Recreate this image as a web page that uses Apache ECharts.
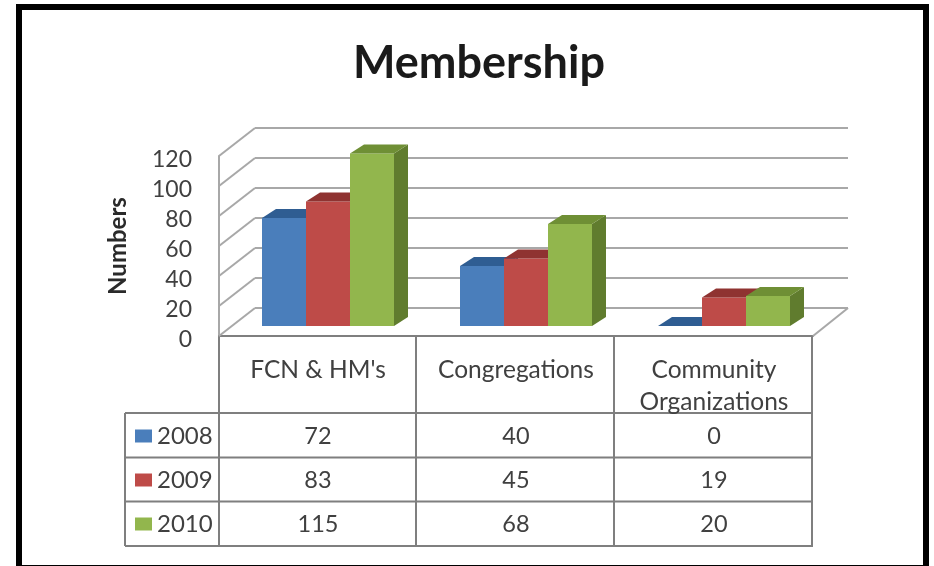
<!DOCTYPE html>
<html>
<head>
<meta charset="utf-8">
<style>html,body{margin:0;padding:0;background:#fff}#c{width:934px;height:566px;filter:blur(0.6px)}</style>
<script src="https://cdn.jsdelivr.net/npm/echarts@6/dist/echarts.min.js"></script>
</head>
<body>
<div id="c"></div>
<script>
var categories = ["FCN & HM's", "Congregations", "Community\nOrganizations"];
var years = ["2008", "2009", "2010"];
var values2008 = [72, 40, 0];
var values2009 = [83, 45, 19];
var values2010 = [115, 68, 20];
var yTicks = [0, 20, 40, 60, 80, 100, 120];

var FONT = 'Lato';
var TEXT = '#404040';
var LINE = '#a8a8a8';
var TABLE = '#7f7f7f';
var palette = [
  {front: '#4a7ebb', top: '#2f5d92', side: '#2f5d92'},
  {front: '#be4b48', top: '#8f3331', side: '#8f3331'},
  {front: '#92b64d', top: '#6f8f35', side: '#607c2e'}
];
var wallDx = 36, wallDy = 28;
var barW = 44, barDx = 14, barDy = 9, barLift = 10, groupStart = -56;
var rowY = [436, 480.5, 524.5];

function poly(points, fill) {
  return {type: 'polygon', shape: {points: points}, style: {fill: fill, stroke: null}};
}
function seg(x1, y1, x2, y2, color, w) {
  return {type: 'line', shape: {x1: x1, y1: y1, x2: x2, y2: y2}, style: {stroke: color, lineWidth: w || 2, fill: null}};
}
function barSeries(name, data, i) {
  return {
    name: name, type: 'custom', coordinateSystem: 'cartesian2d',
    itemStyle: {color: palette[i].front},
    data: data.map(function (v, c) { return [c, v]; }),
    encode: {x: 0, y: 1},
    renderItem: function (params, api) {
      var c = api.value(0), v = api.value(1);
      var base = api.coord([c, 0]), top = api.coord([c, v]);
      var x0 = base[0] + groupStart + i * barW, x1 = x0 + barW;
      var yb = base[1] - barLift, yt = top[1] - barLift;
      var col = palette[i];
      var children = [];
      if (v > 0) {
        children.push(poly([[x1, yb], [x1 + barDx, yb - barDy], [x1 + barDx, yt - barDy], [x1, yt]], col.side));
        children.push({type: 'rect', shape: {x: x0, y: yt, width: barW, height: yb - yt}, style: {fill: col.front}});
      }
      children.push(poly([[x0, yt], [x1, yt], [x1 + barDx, yt - barDy], [x0 + barDx, yt - barDy]], col.top));
      children.push({type: 'text', style: {
        text: String(v), x: base[0], y: rowY[i], align: 'center', verticalAlign: 'middle',
        font: '23.5px ' + FONT, fill: TEXT
      }});
      return {type: 'group', children: children};
    }
  };
}

var wallSeries = {
  type: 'custom', coordinateSystem: 'cartesian2d', silent: true, legendHoverLink: false,
  data: yTicks.map(function (t) { return [0, t]; }),
  encode: {x: 0, y: 1},
  renderItem: function (params, api) {
    var s = params.coordSys;
    var y = api.coord([0, api.value(1)])[1];
    var kids = [
      seg(s.x, y, s.x + wallDx, y - wallDy, LINE),
      seg(s.x + wallDx, y - wallDy, s.x + s.width + wallDx - 1, y - wallDy, LINE)
    ];
    if (api.value(1) === 0) {
      kids.push(seg(s.x + s.width, y, s.x + s.width + wallDx - 1, y - wallDy, LINE));
    }
    return {type: 'group', children: kids};
  }
};

var chart = echarts.init(document.getElementById('c'));
chart.setOption({
  animation: false,
  backgroundColor: '#fff',
  title: {
    text: 'Membership', left: 474, top: 36, textAlign: 'center',
    textStyle: {fontFamily: FONT, fontWeight: 'bold', fontSize: 45, color: '#1a1a1a'}
  },
  grid: {left: 219, width: 594, top: 156, height: 180, containLabel: false},
  legend: {
    orient: 'vertical', left: 130, top: 419, itemWidth: 17, itemHeight: 13,
    itemGap: 20, icon: 'rect', data: years,
    textStyle: {fontFamily: FONT, fontSize: 24, color: TEXT, lineHeight: 24}
  },
  xAxis: {
    type: 'category', data: categories,
    axisTick: {show: false},
    axisLine: {show: true, lineStyle: {color: TABLE, width: 2}},
    axisLabel: {
      interval: 0, margin: 18, fontFamily: FONT, fontSize: 24.5, color: TEXT,
      lineHeight: 32, verticalAlign: 'top'
    }
  },
  yAxis: {
    type: 'value', min: 0, max: 120, interval: 20,
    name: 'Numbers', nameLocation: 'middle', nameGap: 89, nameRotate: 90,
    nameTextStyle: {fontFamily: FONT, fontWeight: 'bold', fontSize: 24, color: '#2a2a2a'},
    axisTick: {show: false},
    splitLine: {show: false},
    axisLine: {show: true, lineStyle: {color: LINE, width: 2}},
    axisLabel: {margin: 27, fontFamily: FONT, fontSize: 23, color: TEXT, verticalAlign: 'top', lineHeight: 8}
  },
  graphic: [
    {type: 'rect', silent: true, shape: {x: 19, y: 7, width: 907, height: 561}, style: {fill: null, stroke: '#000', lineWidth: 6}},
    {type: 'group', silent: true, children: [
      seg(219, 336, 219, 546, TABLE),
      seg(416, 336, 416, 546, TABLE),
      seg(614, 336, 614, 546, TABLE),
      seg(812, 336, 812, 546, TABLE),
      seg(125, 413, 125, 546, TABLE),
      seg(125, 413, 813, 413, TABLE),
      seg(125, 457.5, 813, 457.5, TABLE),
      seg(125, 501.5, 813, 501.5, TABLE),
      seg(125, 546, 813, 546, TABLE)
    ]}
  ],
  series: [wallSeries,
    barSeries(years[0], values2008, 0),
    barSeries(years[1], values2009, 1),
    barSeries(years[2], values2010, 2)
  ]
});
</script>
</body>
</html>
